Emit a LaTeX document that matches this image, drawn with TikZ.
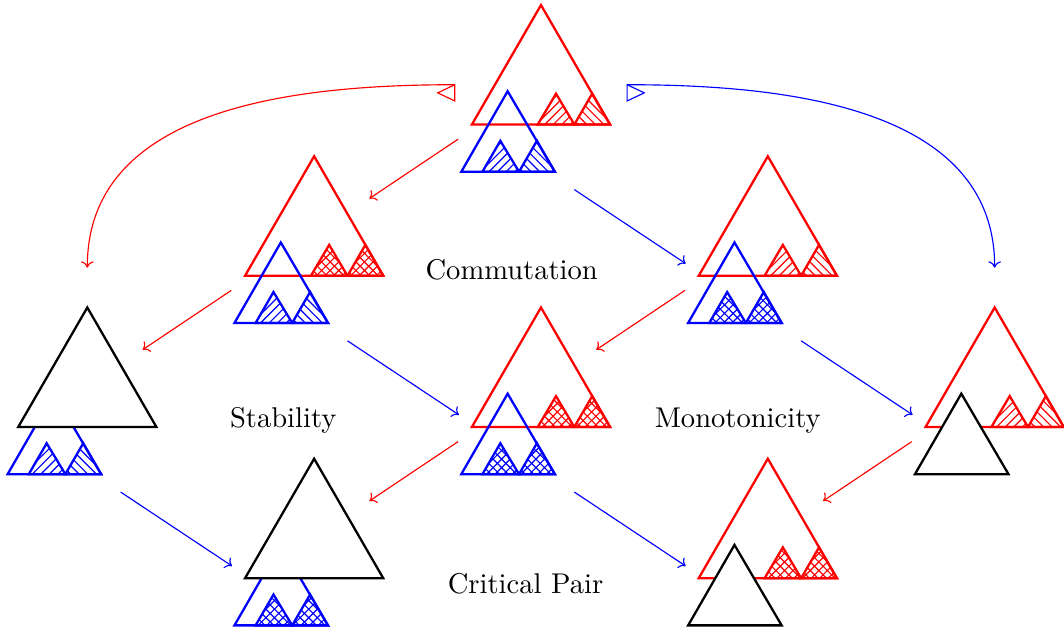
\documentclass[tikz,border=0pt]{standalone}
\usepackage{amsmath}
\usepackage{tikz}
\usetikzlibrary{arrows.meta,patterns}

\begin{document}
\begin{tikzpicture}[>={To[width=4.4pt,length=2.2pt]}]
  \tikzset{
    tri/.style={thick},
    sub/.style 2 args={thick,draw=#1,pattern=#2,pattern color=#1},
    pics/ports/.style={code={
      \coordinate (-ro) at (-1.02,-0.18);
      \coordinate (-ri) at (0.68,0.95);
      \coordinate (-bo) at (0.41,-0.80);
      \coordinate (-bi) at (-1.01,0.15);
      \coordinate (-tl) at (-1.06,0.49);
      \coordinate (-tr) at (1.06,0.49);
      \coordinate (-ti) at (0,1.96);
    }},
    pics/upper/.style n args={3}{code={
      \draw[tri,#1] (-0.85,0) -- (0,1.47) -- (0.85,0) -- cycle;
      \draw[sub={#1}{#2}] (-0.04,0) -- (0.185,0.38) -- (0.41,0) -- cycle;
      \draw[sub={#1}{#3}] (0.41,0) -- (0.63,0.38) -- (0.85,0) -- cycle;
    }},
    pics/lower/.style n args={3}{code={
      \draw[tri,#1] (-0.98,-0.58) -- (-0.41,0.41) -- (0.17,-0.58) -- cycle;
      \draw[sub={#1}{#2}] (-0.72,-0.58) -- (-0.5,-0.2) -- (-0.27,-0.58) -- cycle;
      \draw[sub={#1}{#3}] (-0.27,-0.58) -- (-0.05,-0.2) -- (0.17,-0.58) -- cycle;
    }},
    pics/upperhole/.style={code={
      \draw[tri,fill=white] (-0.85,0) -- (0,1.47) -- (0.85,0) -- cycle;
    }},
    pics/lowerhole/.style={code={
      \draw[tri,fill=white] (-0.98,-0.58) -- (-0.41,0.41) -- (0.17,-0.58) -- cycle;
    }},
  }
  \useasboundingbox (-6.654,-2.558) rectangle (6.433,5.252);

  % base of each term
  \coordinate (src) at (0,3.72);
  \coordinate (cleft) at (-2.79,1.86);
  \coordinate (cright) at (2.79,1.86);
  \coordinate (stab) at (-5.58,0);
  \coordinate (mid) at (0,0);
  \coordinate (mono) at (5.58,0);
  \coordinate (pleft) at (-2.79,-1.86);
  \coordinate (pright) at (2.79,-1.86);
  \foreach \t in {src,cleft,cright,stab,mid,mono,pleft,pright}
    \pic (\t) at (\t) {ports};

  % terms
  \pic at (src) {upper={red}{north east lines}{north west lines}};
  \pic at (src) {lower={blue}{north east lines}{north west lines}};
  \pic at (cleft) {upper={red}{crosshatch}{crosshatch}};
  \pic at (cleft) {lower={blue}{north east lines}{north west lines}};
  \pic at (cright) {upper={red}{north east lines}{north west lines}};
  \pic at (cright) {lower={blue}{crosshatch}{crosshatch}};
  \pic at (mid) {upper={red}{crosshatch}{crosshatch}};
  \pic at (mid) {lower={blue}{crosshatch}{crosshatch}};
  \pic at (stab) {lower={blue}{north east lines}{north west lines}};
  \pic at (stab) {upperhole};
  \pic at (mono) {upper={red}{north east lines}{north west lines}};
  \pic at (mono) {lowerhole};
  \pic at (pleft) {lower={blue}{crosshatch}{crosshatch}};
  \pic at (pleft) {upperhole};
  \pic at (pright) {upper={red}{crosshatch}{crosshatch}};
  \pic at (pright) {lowerhole};

  % steps
  \foreach \a/\b in {src/cleft,cleft/stab,cright/mid,mid/pleft,mono/pright}
    \draw[red,->] (\a-ro) -- (\b-ri);
  \foreach \a/\b in {src/cright,cleft/mid,cright/mono,stab/pleft,mid/pright}
    \draw[blue,->] (\a-bo) -- (\b-bi);
  \draw[red,->] (src-tl) to[out=180,in=90] (stab-ti);
  \draw[blue,->] (src-tr) to[out=0,in=90] (mono-ti);
  \draw[red] (src-tl) -- ++(0,-0.2) -- ++(-0.21,0.1) -- cycle;
  \draw[blue] (src-tr) -- ++(0,-0.2) -- ++(0.21,0.1) -- cycle;

  % labels
  \node[anchor=base] (commut) at (-0.36,1.82) {Commutation};
  \node[anchor=base] (stable) at (-3.17,-0.01) {Stability};
  \node[anchor=base] (monot) at (2.42,-0.01) {Monotonicity};
  \node[anchor=base] (cpair) at (-0.19,-2.05) {Critical Pair};
\end{tikzpicture}
\end{document}
